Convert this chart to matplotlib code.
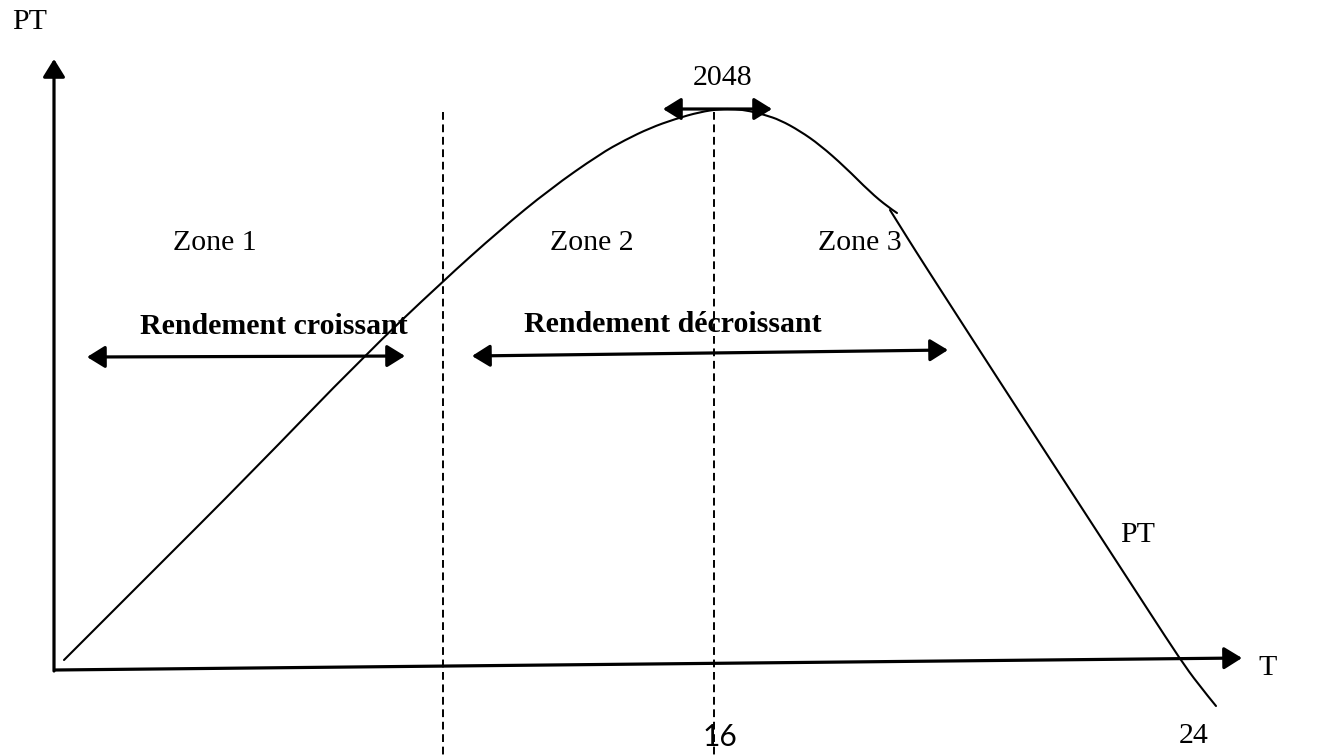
import matplotlib.pyplot as plt
from matplotlib.path import Path
from matplotlib.patches import PathPatch

# schematic drawn in the picture's own pixel frame (x right, y down)
W, H = 1319, 755

# total product curve PT, first part (rise, peak, start of fall)
pt_rise_x = [64, 150, 250, 363, 442, 500, 550, 600, 625, 650, 675, 700,
             720, 735, 750, 765, 780, 800, 820, 845, 870, 888, 897]
pt_rise_y = [660, 574, 474, 357, 282, 230, 189, 154, 140, 128, 119, 112,
             109, 109, 111, 115, 120, 131, 145, 167, 192, 207, 213]
# second part, drawn as a separate stroke down through the T axis
pt_fall_x = [890, 900, 915, 940, 1000, 1050, 1100, 1150, 1180, 1198, 1216]
pt_fall_y = [210, 226, 250, 289, 382, 459, 536, 613, 659, 684, 706]

# axes (origin, ends)
x_axis = [(55, 670), (1242, 658)]
y_axis = [(54, 671), (54, 59)]

# dashed zone limits
zone_limits_x = [443, 714]
zone_limits_top = 112

zone_names = ['Zone 1', 'Zone 2', 'Zone 3']
zone_pos = [(215, 243), (592, 243), (860, 243)]

rendement_labels = ['Rendement croissant', 'Rendement décroissant']
rendement_text_pos = [(274, 326), (673, 325)]
rendement_arrows = [[(87, 357), (405, 356)], [(472, 356), (948, 350)]]

peak_label = '2048'
peak_arrow = [(663, 109), (772, 109)]

tick_labels = ['16', '24']
tick_pos = [(720, 737), (1194, 736)]

serif = 'Liberation Serif'
fs = 21.5


# smooth stroke through the read points: each inner point is a quadratic
# control point, segments meet at midpoints
def smooth_path(xs, ys):
    pts = list(zip(xs, ys))
    verts = [pts[0]]
    codes = [Path.MOVETO]
    for i in range(1, len(pts) - 1):
        mid = ((pts[i][0] + pts[i + 1][0]) / 2, (pts[i][1] + pts[i + 1][1]) / 2)
        if i == len(pts) - 2:
            mid = pts[-1]
        verts += [pts[i], mid]
        codes += [Path.CURVE3, Path.CURVE3]
    return Path(verts, codes)


fig = plt.figure(figsize=(W / 100, H / 100), dpi=100)
ax = fig.add_axes([0, 0, 1, 1])
ax.set_xlim(0, W)
ax.set_ylim(H, 0)
ax.axis('off')

head = '-|>,head_length=0.42,head_width=0.26'
dbl = '<|-|>,head_length=0.42,head_width=0.26'

# axes with arrow heads
for (x0, y0), (x1, y1) in [x_axis, y_axis]:
    ax.annotate('', xy=(x1, y1), xytext=(x0, y0),
                arrowprops=dict(arrowstyle=head, lw=2.3, color='black',
                                mutation_scale=26, shrinkA=0, shrinkB=0))

# dashed verticals
for xv in zone_limits_x:
    ax.plot([xv, xv], [zone_limits_top, H], color='black', lw=1.4,
            linestyle=(0, (4, 2.4)))

# PT curve
for xs, ys in [(pt_rise_x, pt_rise_y), (pt_fall_x, pt_fall_y)]:
    ax.add_patch(PathPatch(smooth_path(xs, ys), facecolor='none',
                           edgecolor='black', lw=1.5, capstyle='round'))

# double arrows
for (x0, y0), (x1, y1) in rendement_arrows + [peak_arrow]:
    ax.annotate('', xy=(x1, y1), xytext=(x0, y0),
                arrowprops=dict(arrowstyle=dbl, lw=2.3, color='black',
                                mutation_scale=26, shrinkA=0, shrinkB=0))

# texts
for name, (x, y) in zip(zone_names, zone_pos):
    ax.text(x, y, name, ha='center', va='center', fontsize=fs, family=serif)
for lab, (x, y) in zip(rendement_labels, rendement_text_pos):
    ax.text(x, y, lab, ha='center', va='center', fontsize=fs, family=serif,
            fontweight='bold')
ax.text(723, 78, peak_label, ha='center', va='center', fontsize=fs, family=serif)
ax.text(tick_pos[0][0], tick_pos[0][1], tick_labels[0], ha='center',
        va='center', fontsize=fs, family='Lato')
ax.text(tick_pos[1][0], tick_pos[1][1], tick_labels[1], ha='center',
        va='center', fontsize=fs, family=serif)

ax.text(30, 22, 'PT', ha='center', va='center', fontsize=fs, family=serif)
ax.text(1268, 668, 'T', ha='center', va='center', fontsize=fs, family=serif)
ax.text(1138, 535, 'PT', ha='center', va='center', fontsize=fs, family=serif)

fig.savefig('out.png', dpi=100)
